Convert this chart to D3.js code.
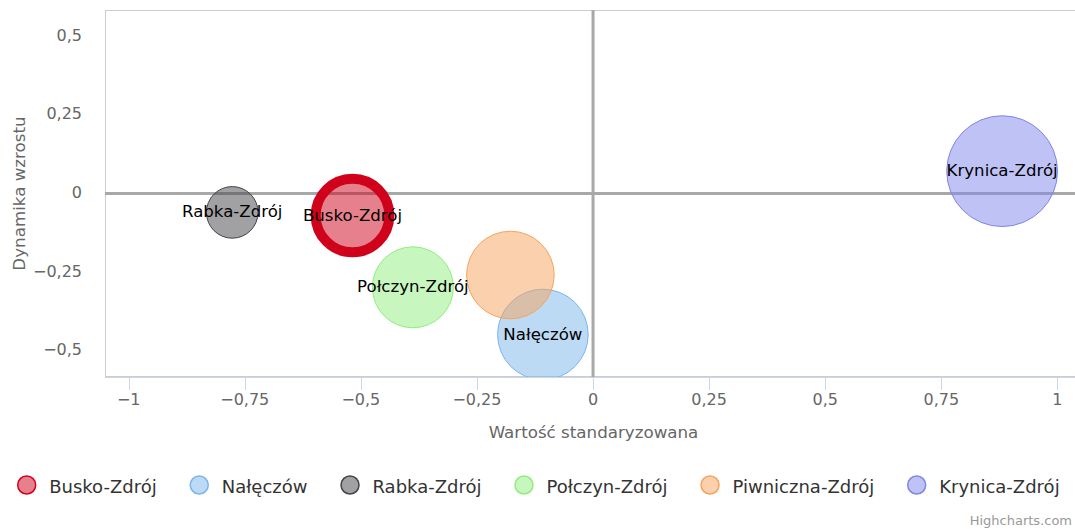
<!DOCTYPE html>
<html>
<head>
<meta charset="utf-8">
<script src="https://cdn.jsdelivr.net/npm/d3@7"></script>
<style>
  body { margin: 0; overflow: hidden; background: #fff; }
  svg { display: block; font-family: "DejaVu Sans", sans-serif; }
</style>
</head>
<body>
<svg id="chart" width="1092" height="529"></svg>
<script>
"use strict";

// data
const categories = ["Busko-Zdrój", "Nałęczów", "Rabka-Zdrój", "Połczyn-Zdrój", "Piwniczna-Zdrój", "Krynica-Zdrój"];
const xValues = [-0.518, -0.108, -0.777, -0.388, -0.178, 0.881];
const yValues = [-0.070, -0.448, -0.060, -0.298, -0.259, 0.071];
const zValues = [44.1, 66.9, 21.7, 53.4, 62.5, 100];
const showLabel = [true, true, true, true, false, true];
const xTicks = [-1, -0.75, -0.5, -0.25, 0, 0.25, 0.5, 0.75, 1];
const yTicks = [-0.5, -0.25, 0, 0.25, 0.5];

const colors = ["#d0021b", "#7cb5ec", "#434348", "#90ed7d", "#f7a35c", "#8085e9"];
const lineWidths = [10, 1, 1, 1, 1, 1];

let svg = d3.select("#chart"),
    plot = { left: 105, top: 10, right: 1082, bottom: 377 };

let x = d3.scaleLinear().domain([-1.051, 1.053]).range([plot.left, plot.right]);
let y = d3.scaleLinear().domain([-0.583, 0.583]).range([plot.bottom, plot.top]);
let r = d3.scaleSqrt().domain([0, 100]).range([0, 55.4]);

let locale = d3.formatLocale({ decimal: ",", thousands: " ", grouping: [3], currency: ["", ""], minus: "\u2212" });
let fmt = locale.format("~g");

let points = categories.map(function (name, i) {
    return { name: name, x: xValues[i], y: yValues[i], z: zValues[i], label: showLabel[i], i: i };
});

svg.append("defs").append("clipPath").attr("id", "plot_clip")
    .append("rect")
    .attr("x", plot.left).attr("y", plot.top)
    .attr("width", plot.right - plot.left).attr("height", plot.bottom - plot.top);

// plot border
svg.append("rect")
    .attr("x", plot.left + 0.5).attr("y", plot.top + 0.5)
    .attr("width", plot.right - plot.left - 1).attr("height", plot.bottom - plot.top - 1)
    .attr("fill", "none").attr("stroke", "#cccccc");

// zero lines
svg.append("line")
    .attr("x1", plot.left).attr("x2", plot.right)
    .attr("y1", y(0)).attr("y2", y(0))
    .attr("stroke", "#a8a8a8").attr("stroke-width", 3);
svg.append("line")
    .attr("x1", x(0)).attr("x2", x(0))
    .attr("y1", plot.top).attr("y2", plot.bottom)
    .attr("stroke", "#a8a8a8").attr("stroke-width", 3);

// bubbles
svg.append("g").attr("clip-path", "url(#plot_clip)")
    .selectAll("circle").data(points).enter()
    .append("circle")
    .attr("cx", function (d) { return x(d.x); })
    .attr("cy", function (d) { return y(d.y); })
    .attr("r", function (d) { return r(d.z); })
    .attr("fill", function (d) { return colors[d.i]; })
    .attr("fill-opacity", 0.5)
    .attr("stroke", function (d) { return colors[d.i]; })
    .attr("stroke-width", function (d) { return lineWidths[d.i]; });

// x axis
let xaxis = svg.append("g").attr("class", "xaxis");
xaxis.append("line")
    .attr("x1", plot.left).attr("x2", plot.right)
    .attr("y1", plot.bottom + 0.5).attr("y2", plot.bottom + 0.5)
    .attr("stroke", "#ccd6eb");
xaxis.selectAll("line.tick").data(xTicks).enter()
    .append("line").attr("class", "tick")
    .attr("x1", function (d) { return Math.round(x(d)) + 0.5; })
    .attr("x2", function (d) { return Math.round(x(d)) + 0.5; })
    .attr("y1", plot.bottom).attr("y2", plot.bottom + 13)
    .attr("stroke", "#ccd6eb");
xaxis.selectAll("text").data(xTicks).enter()
    .append("text")
    .attr("x", function (d) { return x(d); })
    .attr("y", 405)
    .attr("text-anchor", "middle")
    .attr("font-size", "16px")
    .attr("fill", "#666666")
    .text(fmt);

// y axis labels
svg.append("g").attr("class", "yaxis")
    .selectAll("text").data(yTicks).enter()
    .append("text")
    .attr("x", 82)
    .attr("y", function (d) { return y(d) + 4.5; })
    .attr("text-anchor", "end")
    .attr("font-size", "16px")
    .attr("fill", "#666666")
    .text(fmt);

// axis titles
svg.append("text")
    .attr("x", (plot.left + plot.right) / 2).attr("y", 438)
    .attr("text-anchor", "middle")
    .attr("font-size", "16.7px").attr("fill", "#666666")
    .text("Wartość standaryzowana");
svg.append("text")
    .attr("transform", "translate(25," + (plot.top + plot.bottom) / 2 + ") rotate(-90)")
    .attr("text-anchor", "middle")
    .attr("font-size", "16.7px").attr("fill", "#666666")
    .text("Dynamika wzrostu");

// data labels
svg.append("g").selectAll("text").data(points.filter(function (d) { return d.label; })).enter()
    .append("text")
    .attr("x", function (d) { return x(d.x); })
    .attr("y", function (d) { return y(d.y) + 5; })
    .attr("text-anchor", "middle")
    .attr("font-size", "16.6px")
    .attr("fill", "#000000")
    .text(function (d) { return d.name; });

// legend
let legend = svg.append("g").attr("class", "legend");
let cx = 26.7;
points.forEach(function (d) {
    legend.append("circle")
        .attr("cx", cx).attr("cy", 485)
        .attr("r", 9)
        .attr("fill", colors[d.i]).attr("fill-opacity", 0.5)
        .attr("stroke", colors[d.i]).attr("stroke-width", 1.5);
    let t = legend.append("text")
        .attr("x", cx + 22.5).attr("y", 493)
        .attr("font-size", "18px")
        .attr("fill", "#333333")
        .text(d.name);
    cx = cx + 22.5 + t.node().getComputedTextLength() + 42.5;
});

// credits (kept inside the visible window)
svg.append("text")
    .attr("x", 1072).attr("y", 525)
    .attr("text-anchor", "end")
    .attr("font-size", "13px").attr("fill", "#999999")
    .text("Highcharts.com");
</script>
</body>
</html>
